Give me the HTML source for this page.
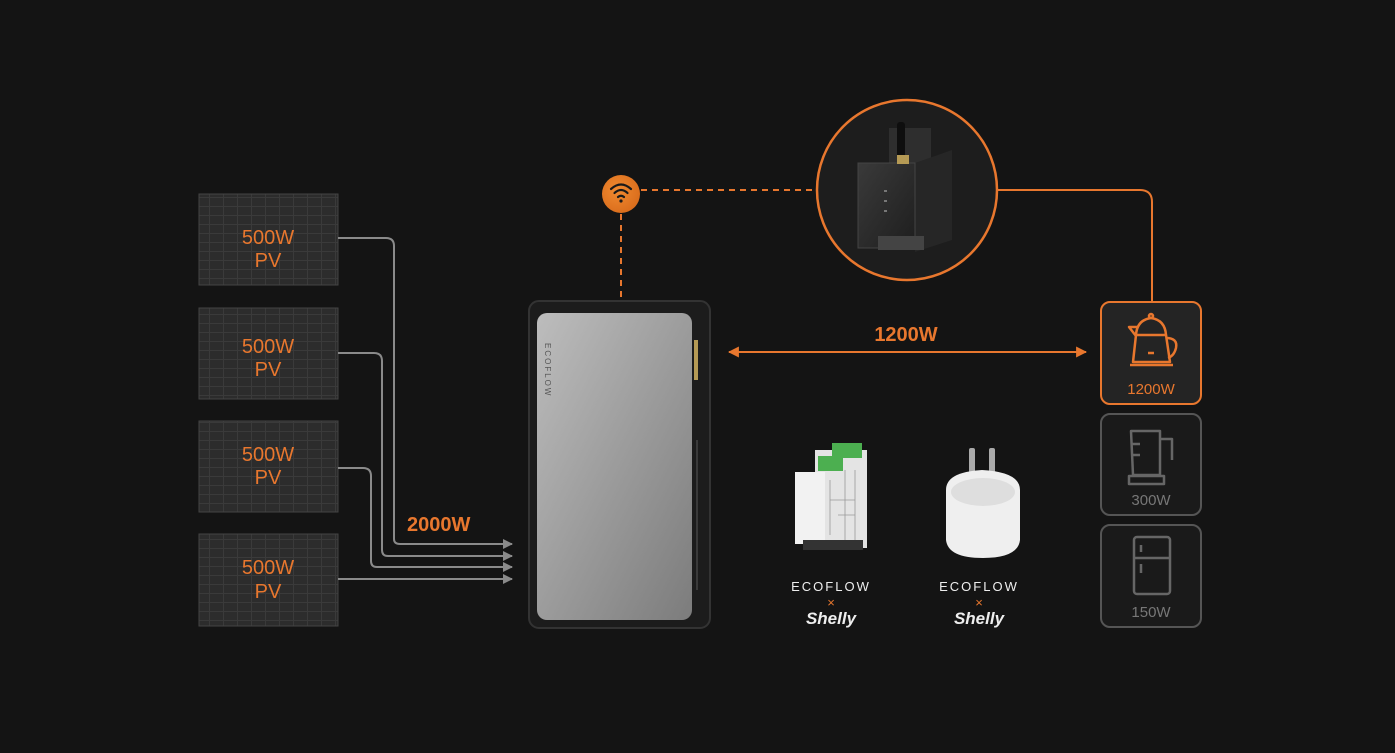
<!DOCTYPE html>
<html><head><meta charset="utf-8"><style>
html,body{margin:0;padding:0;background:#141414;}
svg{display:block}
text{font-family:"Liberation Sans",sans-serif;}
</style></head><body>
<svg width="1395" height="753" viewBox="0 0 1395 753" xmlns="http://www.w3.org/2000/svg">
<defs>
<pattern id="cells" width="14" height="9" patternUnits="userSpaceOnUse">
<rect width="14" height="9" fill="#2c2c2c"/>
<path d="M0 8.5H14M13.5 0V9" stroke="#3a3a3a" stroke-width="1"/>
</pattern>
<linearGradient id="silver" x1="0" y1="0" x2="1" y2="1">
<stop offset="0" stop-color="#bdbdbd"/><stop offset="0.5" stop-color="#9c9c9c"/><stop offset="1" stop-color="#7c7c7c"/>
</linearGradient>
<linearGradient id="dev" x1="0" y1="0" x2="1" y2="1">
<stop offset="0" stop-color="#3a3a3a"/><stop offset="1" stop-color="#1e1e1e"/>
</linearGradient>
<radialGradient id="wifi" cx="0.4" cy="0.4" r="0.7">
<stop offset="0" stop-color="#f08a30"/><stop offset="1" stop-color="#d86a1a"/>
</radialGradient>
<marker id="ga" viewBox="0 0 10 10" refX="9" refY="5" markerWidth="10" markerHeight="10" markerUnits="userSpaceOnUse" orient="auto"><path d="M0 0L10 5L0 10z" fill="#8a8a8a"/></marker>
<marker id="oa" viewBox="0 0 10 10" refX="9" refY="5" markerWidth="11" markerHeight="11" markerUnits="userSpaceOnUse" orient="auto-start-reverse"><path d="M0 0L10 5L0 10z" fill="#e8772e"/></marker>
</defs>
<rect width="1395" height="753" fill="#141414"/>

<g fill="url(#cells)" stroke="#444" stroke-width="1">
<rect x="199" y="194" width="139" height="91"/>
<rect x="199" y="308" width="139" height="91"/>
<rect x="199" y="421" width="139" height="91"/>
<rect x="199" y="534" width="139" height="92"/>
</g>
<g fill="#e8772e" font-size="20" text-anchor="middle">
<text x="268" y="244">500W</text><text x="268" y="267">PV</text>
<text x="268" y="353">500W</text><text x="268" y="376">PV</text>
<text x="268" y="461">500W</text><text x="268" y="484">PV</text>
<text x="268" y="574">500W</text><text x="268" y="598">PV</text>
</g>

<g fill="none" stroke="#8a8a8a" stroke-width="2">
<path d="M338 238H386Q394 238 394 246V539Q394 544 400 544H512" marker-end="url(#ga)"/>
<path d="M338 353H374Q382 353 382 361V550Q382 556 388 556H512" marker-end="url(#ga)"/>
<path d="M338 468H363Q371 468 371 476V561Q371 567 377 567H512" marker-end="url(#ga)"/>
<path d="M338 579H512" marker-end="url(#ga)"/>
</g>
<text x="407" y="531" fill="#e8772e" font-size="20" font-weight="bold">2000W</text>

<rect x="529" y="301" width="181" height="327" rx="10" fill="#1c1c1c" stroke="#333" stroke-width="2"/>
<rect x="537" y="313" width="155" height="307" rx="10" fill="url(#silver)"/>
<rect x="694" y="340" width="4" height="40" fill="#b59a55"/>
<line x1="697" y1="440" x2="697" y2="590" stroke="#444" stroke-width="1.5"/>
<text x="0" y="0" transform="translate(545,343) rotate(90)" font-size="8" fill="#555" letter-spacing="2">ECOFLOW</text>

<path d="M621 214V300" stroke="#e8772e" stroke-width="2" stroke-dasharray="6 5"/>
<path d="M641 190H816" stroke="#e8772e" stroke-width="2" stroke-dasharray="6 5"/>
<circle cx="621" cy="194" r="19" fill="url(#wifi)"/>
<g fill="none" stroke="#1a1a1a" stroke-width="2.2" stroke-linecap="round">
<path d="M611 189Q621 180 631 189"/><path d="M614.5 193Q621 187 627.5 193"/><path d="M618 197Q621 194.5 624 197"/>
</g>
<circle cx="621" cy="201" r="1.6" fill="#1a1a1a"/>

<path d="M997 190H1140Q1152 190 1152 202V302" fill="none" stroke="#e8772e" stroke-width="2"/>
<circle cx="907" cy="190" r="90" fill="#1d1d1d" stroke="#e8772e" stroke-width="2.5"/>
<rect x="889" y="128" width="42" height="40" fill="#2e2e2e"/>
<polygon points="915,163 952,150 952,240 915,252" fill="#262626"/>
<rect x="858" y="163" width="57" height="85" fill="url(#dev)" stroke="#444"/>
<rect x="897" y="122" width="8" height="40" rx="3" fill="#0e0e0e"/>
<rect x="897" y="155" width="12" height="9" fill="#b59a55"/>
<rect x="878" y="236" width="46" height="14" fill="#444"/>
<g fill="#777"><rect x="884" y="190" width="3" height="2"/><rect x="884" y="200" width="3" height="2"/><rect x="884" y="210" width="3" height="2"/></g>

<text x="906" y="341" fill="#e8772e" font-size="20" font-weight="bold" text-anchor="middle">1200W</text>
<line x1="729" y1="352" x2="1086" y2="352" stroke="#e8772e" stroke-width="2" marker-start="url(#oa)" marker-end="url(#oa)"/>

<rect x="1101" y="302" width="100" height="102" rx="9" fill="#242424" stroke="#e8772e" stroke-width="2"/>
<rect x="1101" y="414" width="100" height="101" rx="9" fill="#1a1a1a" stroke="#555" stroke-width="2"/>
<rect x="1101" y="525" width="100" height="102" rx="9" fill="#1a1a1a" stroke="#555" stroke-width="2"/>
<g fill="none" stroke="#e8772e" stroke-width="2.5" stroke-linejoin="round">
<path d="M1136 335Q1137 320 1151 318Q1165 320 1166 335Z"/>
<path d="M1136 335L1133 362H1170L1166 335"/>
<path d="M1136 336L1129 327H1138"/>
<path d="M1166 338Q1178 338 1176 348Q1174 356 1168 358"/>
<path d="M1130 365H1173"/>
<circle cx="1151" cy="316" r="2"/>
<path d="M1148 353H1154"/>
</g>
<text x="1151" y="394" fill="#e8772e" font-size="15" text-anchor="middle">1200W</text>
<g fill="none" stroke="#666" stroke-width="2.5" stroke-linejoin="round">
<path d="M1131 431H1160V475H1133Z"/><path d="M1131 444H1140M1131 455H1140"/>
<path d="M1160 439H1172V460"/><path d="M1129 476H1164V484H1129Z"/>
</g>
<text x="1151" y="505" fill="#777" font-size="15" text-anchor="middle">300W</text>
<g fill="none" stroke="#666" stroke-width="2.5">
<rect x="1134" y="537" width="36" height="57" rx="3"/><path d="M1134 558H1170M1141 545V552M1141 564V573"/>
</g>
<text x="1151" y="617" fill="#777" font-size="15" text-anchor="middle">150W</text>

<rect x="815" y="450" width="52" height="98" fill="#e4e4e4"/>
<rect x="795" y="472" width="30" height="72" fill="#f2f2f2"/>
<rect x="832" y="443" width="30" height="15" fill="#4caf50"/>
<rect x="818" y="456" width="25" height="15" fill="#4caf50"/>
<rect x="803" y="540" width="60" height="10" fill="#333"/>
<g stroke="#999" stroke-width="0.8" fill="none"><path d="M830 480V535M845 470V540M855 470V540M830 500H855M838 515H855"/></g>

<rect x="969" y="448" width="6" height="30" rx="2" fill="#aaa"/>
<rect x="989" y="448" width="6" height="30" rx="2" fill="#aaa"/>
<path d="M946 490Q946 472 982 470Q1020 472 1020 490V540Q1018 558 983 558Q948 558 946 540Z" fill="#efefef"/>
<ellipse cx="983" cy="492" rx="32" ry="14" fill="#dedede"/>

<g font-size="13" fill="#eee" text-anchor="middle" letter-spacing="2">
<text x="831" y="591">ECOFLOW</text><text x="979" y="591">ECOFLOW</text></g>
<g font-size="13" fill="#e8772e" text-anchor="middle"><text x="831" y="607">×</text><text x="979" y="607">×</text></g>
<g font-size="17" fill="#eee" text-anchor="middle" font-weight="bold" font-style="italic">
<text x="831" y="624" font-family="Liberation Serif,serif">Shelly</text><text x="979" y="624" font-family="Liberation Serif,serif">Shelly</text></g>
</svg>
</body></html>
